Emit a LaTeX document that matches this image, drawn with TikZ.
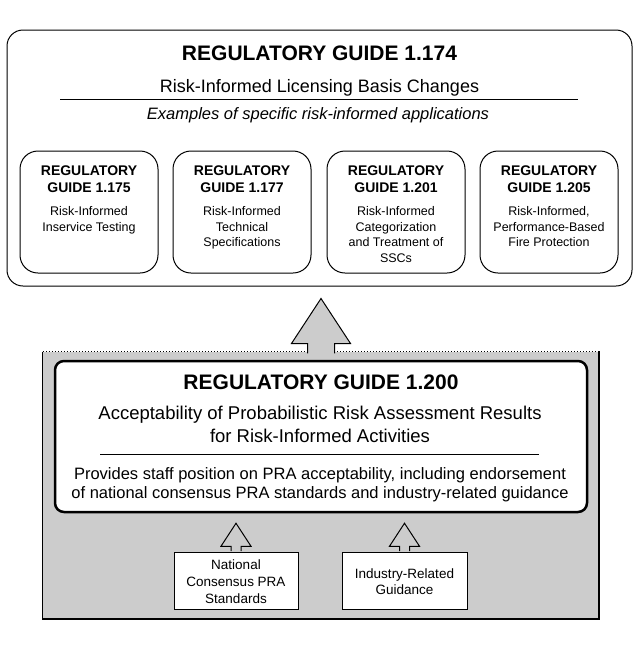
\documentclass[tikz,border=0pt]{standalone}
\usepackage{fontspec}
\setmainfont{Liberation Sans}
\usetikzlibrary{calc}
\definecolor{patgray}{gray}{0.8}
\newcommand\blockarrow[7]{% #1 source, #2 target, #3 gap, #4 head length, #5 head half width, #6 shaft half width, #7 overlap
  \filldraw[arrowstyle] let \p1=(#1.north), \p2=(#2.south) in
   ({\x1-#6pt},{\y1-#7pt}) -- ({\x1-#6pt},{\y2-#3pt-#4pt}) -- ({\x1-#5pt},{\y2-#3pt-#4pt})
   -- (\x1,{\y2-#3pt}) -- ({\x1+#5pt},{\y2-#3pt-#4pt}) -- ({\x1+#6pt},{\y2-#3pt-#4pt}) -- ({\x1+#6pt},{\y1-#7pt});
}
\begin{document}
\begin{tikzpicture}[x=1pt,y=-1pt,
  txt/.style={anchor=base,inner sep=0pt},
  bigtitle/.style={txt,font=\fontsize{21}{24}\selectfont\bfseries},
  subtitle/.style={txt,font=\fontsize{18}{21}\selectfont},
  italicline/.style={txt,font=\fontsize{16.5}{19}\selectfont\itshape},
  smalltitle/.style={txt,font=\fontsize{14}{16}\selectfont\bfseries},
  smallbody/.style={txt,font=\fontsize{12.5}{15}\selectfont},
  midtext/.style={txt,font=\fontsize{18.5}{22}\selectfont},
  desctext/.style={txt,font=\fontsize{16.5}{19}\selectfont},
  srctext/.style={txt,font=\fontsize{13.5}{16}\selectfont},
  appbox/.style={draw,line width=1pt,rounded corners=18pt,minimum width=138pt,minimum height=122pt,inner sep=0pt},
  srcbox/.style={draw,line width=1pt,fill=white,minimum height=57pt,inner sep=0pt},
  arrowstyle/.style={fill=patgray,draw=black,line width=1pt,line join=miter}
]
\useasboundingbox (0,0) rectangle (639,649);

% top box
\node[draw,line width=1pt,rounded corners=16pt,minimum width=625pt,minimum height=256pt,inner sep=0pt] (rg174) at (319.5,158) {};
\node[bigtitle] (t174) at (319.5,60.5) {REGULATORY GUIDE 1.174};
\node[subtitle] (s174) at (319.5,92) {Risk-Informed Licensing Basis Changes};
\draw[line width=1pt] (60,99) -- (578,99);
\node[italicline] (e174) at (318,119) {Examples of specific risk-informed applications};

% application boxes
\node[appbox] (b175) at (89,212) {};
\node[appbox] (b177) at (242,212) {};
\node[appbox] (b201) at (396,212) {};
\node[appbox] (b205) at (549,212) {};

\node[smalltitle] (h175a) at (89,175) {REGULATORY};
\node[smalltitle] (h175b) at (89,192) {GUIDE 1.175};
\node[smallbody] (d175a) at (89,215.5) {Risk-Informed};
\node[smallbody] (d175b) at (89,231) {Inservice Testing};

\node[smalltitle] (h177a) at (242,175) {REGULATORY};
\node[smalltitle] (h177b) at (242,192) {GUIDE 1.177};
\node[smallbody] (d177a) at (242,215.5) {Risk-Informed};
\node[smallbody] (d177b) at (242,231) {Technical};
\node[smallbody] (d177c) at (242,246.5) {Specifications};

\node[smalltitle] (h201a) at (396,175) {REGULATORY};
\node[smalltitle] (h201b) at (396,192) {GUIDE 1.201};
\node[smallbody] (d201a) at (396,215.5) {Risk-Informed};
\node[smallbody] (d201b) at (396,231) {Categorization};
\node[smallbody] (d201c) at (396,246.5) {and Treatment of};
\node[smallbody] (d201d) at (396,262) {SSCs};

\node[smalltitle] (h205a) at (549,175) {REGULATORY};
\node[smalltitle] (h205b) at (549,192) {GUIDE 1.205};
\node[smallbody] (d205a) at (549,215.5) {Risk-Informed,};
\node[smallbody] (d205b) at (549,231) {Performance-Based};
\node[smallbody] (d205c) at (549,246.5) {Fire Protection};

% gray box
\node[fill=patgray,minimum width=556pt,minimum height=267pt,inner sep=0pt] (graybox) at (321,485.5) {};
\draw[line width=0.8pt] (graybox.north west) -- (graybox.south west);
\draw[line width=1pt,dotted] (graybox.north west) -- (graybox.north east);
\draw[line width=2pt,line cap=rect] (graybox.north east) -- (graybox.south east) -- (graybox.south west);
\blockarrow{graybox}{rg174}{12}{45}{29.5}{13.5}{1.5}

% RG 1.200 box
\node[draw,fill=white,line width=2.5pt,rounded corners=9pt,minimum width=532pt,minimum height=151pt,inner sep=0pt] (rg200) at (321,436.5) {};
\node[bigtitle] (t200) at (321,389.5) {REGULATORY GUIDE 1.200};
\node[midtext] (s200a) at (320,419.5) {Acceptability of Probabilistic Risk Assessment Results};
\node[midtext] (s200b) at (320,442.5) {for Risk-Informed Activities};
\draw[line width=0.8pt] (100,454) -- (539,454);
\node[desctext] (p200a) at (320,479) {Provides staff position on PRA acceptability, including endorsement};
\node[desctext] (p200b) at (320,498) {of national consensus PRA standards and industry-related guidance};

% source boxes
\node[srcbox,minimum width=124pt] (stds) at (236,580.5) {};
\node[srcbox,minimum width=125pt] (indg) at (404.5,580.5) {};
\blockarrow{stds}{rg200}{10}{23}{15}{5}{-0.5}
\blockarrow{indg}{rg200}{10}{23}{15}{5}{-0.5}

\node[srctext] (sa) at (236,569) {National};
\node[srctext] (sb) at (236,586) {Consensus PRA};
\node[srctext] (sc) at (236,603) {Standards};
\node[srctext] (ia) at (404.5,578) {Industry-Related};
\node[srctext] (ib) at (404.5,594) {Guidance};
\end{tikzpicture}
\end{document}
